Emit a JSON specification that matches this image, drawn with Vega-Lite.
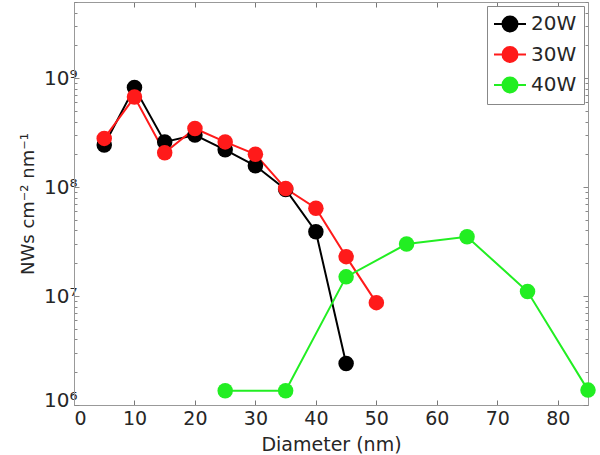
{
  "$schema": "https://vega.github.io/schema/vega-lite/v6.json",
  "width": 514,
  "height": 403,
  "autosize": {"type": "none"},
  "padding": {"left": 74, "top": 2, "right": 12, "bottom": 50},
  "background": "white",
  "config": {
    "view": {"stroke": "#999", "strokeWidth": 1},
    "font": "DejaVu Sans"
  },
  "data": {
    "values": [
      {"s": "20W", "d": 5, "n": 243000000},
      {"s": "20W", "d": 10, "n": 820000000},
      {"s": "20W", "d": 15, "n": 260000000},
      {"s": "20W", "d": 20, "n": 300000000},
      {"s": "20W", "d": 25, "n": 220000000},
      {"s": "20W", "d": 30, "n": 157000000},
      {"s": "20W", "d": 35, "n": 95000000},
      {"s": "20W", "d": 40, "n": 39000000},
      {"s": "20W", "d": 45, "n": 2400000},
      {"s": "30W", "d": 5, "n": 280000000},
      {"s": "30W", "d": 10, "n": 670000000},
      {"s": "30W", "d": 15, "n": 207000000},
      {"s": "30W", "d": 20, "n": 345000000},
      {"s": "30W", "d": 25, "n": 260000000},
      {"s": "30W", "d": 30, "n": 200000000},
      {"s": "30W", "d": 35, "n": 97000000},
      {"s": "30W", "d": 40, "n": 64000000},
      {"s": "30W", "d": 45, "n": 23000000},
      {"s": "30W", "d": 50, "n": 8700000},
      {"s": "40W", "d": 25, "n": 1350000},
      {"s": "40W", "d": 35, "n": 1350000},
      {"s": "40W", "d": 45, "n": 15000000},
      {"s": "40W", "d": 55, "n": 30000000},
      {"s": "40W", "d": 65, "n": 35000000},
      {"s": "40W", "d": 75, "n": 11000000},
      {"s": "40W", "d": 85, "n": 1370000}
    ]
  },
  "layer": [
    {
      "mark": {"type": "line", "strokeWidth": 2},
      "encoding": {
        "x": {
          "field": "d", "type": "quantitative",
          "scale": {"domain": [0, 85], "nice": false, "zero": false},
          "axis": {
            "orient": "bottom",
            "values": [0, 10, 20, 30, 40, 50, 60, 70, 80],
            "grid": false,
            "domainColor": "#999",
            "tickColor": "#777",
            "tickSize": -5,
            "labelFontSize": 19,
            "labelColor": "#262626",
            "labelPadding": 9,
            "title": "Diameter (nm)",
            "titleFontSize": 19,
            "titleFontWeight": "normal",
            "titleColor": "#262626",
            "titlePadding": 7
          }
        },
        "y": {
          "field": "n", "type": "quantitative",
          "scale": {"type": "log", "domain": [1000000, 5000000000], "nice": false},
          "axis": {
            "orient": "left",
            "values": [1000000, 2000000, 3000000, 4000000, 5000000, 6000000, 7000000, 8000000, 9000000, 10000000, 20000000, 30000000, 40000000, 50000000, 60000000, 70000000, 80000000, 90000000, 100000000, 200000000, 300000000, 400000000, 500000000, 600000000, 700000000, 800000000, 900000000, 1000000000, 2000000000, 3000000000, 4000000000, 5000000000],
            "labelExpr": "abs(log(datum.value)/LN10 - round(log(datum.value)/LN10)) < 0.001 ? '10' + ['⁰','¹','²','³','⁴','⁵','⁶','⁷','⁸','⁹'][round(log(datum.value)/LN10)] : ''",
            "grid": false,
            "domainColor": "#999",
            "tickColor": "#888",
            "tickSize": {"condition": {"test": "abs(log(datum.value)/LN10 - round(log(datum.value)/LN10)) > 0.001", "value": -3}, "value": -5},
            "labelFontSize": 20,
            "labelColor": "#262626",
            "labelPadding": 2,
            "labelOffset": {"condition": {"test": "datum.value < 1500000", "value": -5}, "value": 0},
            "title": "NWs cm⁻² nm⁻¹",
            "titleFontSize": 18,
            "titleFontWeight": "normal",
            "titleColor": "#262626",
            "titlePadding": 6
          }
        },
        "color": {
          "field": "s", "type": "nominal",
          "scale": {"domain": ["20W", "30W", "40W"], "range": ["#000000", "#ff1a1a", "#22ee22"]},
          "legend": {
            "orient": "none",
            "legendX": 413,
            "legendY": 4,
            "title": null,
            "direction": "vertical",
            "fillColor": "white",
            "strokeColor": "#888",
            "padding": 7,
            "rowPadding": 6.5,
            "labelFontSize": 20,
            "labelColor": "#262626",
            "labelOffset": 10,
            "symbolOffset": 5,
            "symbolType": "M-1.6,0H1.6M0.75,0A0.75,0.75,0,1,1,-0.75,0A0.75,0.75,0,1,1,0.75,0Z",
            "symbolSize": 400,
            "symbolStrokeWidth": 2,
            "encode": {
              "symbols": {
                "update": {
                  "stroke": {"scale": "color", "field": "value"},
                  "fill": {"scale": "color", "field": "value"},
                  "opacity": {"value": 1}
                }
              }
            }
          }
        },
        "order": {"field": "d"}
      }
    },
    {
      "mark": {"type": "point", "filled": true, "size": 240, "opacity": 1},
      "encoding": {
        "x": {
          "field": "d", "type": "quantitative",
          "axis": {
            "orient": "top",
            "values": [0, 10, 20, 30, 40, 50, 60, 70, 80],
            "labels": false,
            "title": null,
            "grid": false,
            "domainColor": "#999",
            "tickColor": "#777",
            "tickSize": -5
          }
        },
        "y": {
          "field": "n", "type": "quantitative",
          "axis": {
            "orient": "right",
            "values": [1000000, 2000000, 3000000, 4000000, 5000000, 6000000, 7000000, 8000000, 9000000, 10000000, 20000000, 30000000, 40000000, 50000000, 60000000, 70000000, 80000000, 90000000, 100000000, 200000000, 300000000, 400000000, 500000000, 600000000, 700000000, 800000000, 900000000, 1000000000, 2000000000, 3000000000, 4000000000, 5000000000],
            "labels": false,
            "title": null,
            "grid": false,
            "domainColor": "#999",
            "tickColor": "#888",
            "tickSize": {"condition": {"test": "abs(log(datum.value)/LN10 - round(log(datum.value)/LN10)) > 0.001", "value": -3}, "value": -5}
          }
        },
        "color": {
          "field": "s", "type": "nominal"
        }
      }
    }
  ],
  "resolve": {"axis": {"x": "independent", "y": "independent"}}
}
